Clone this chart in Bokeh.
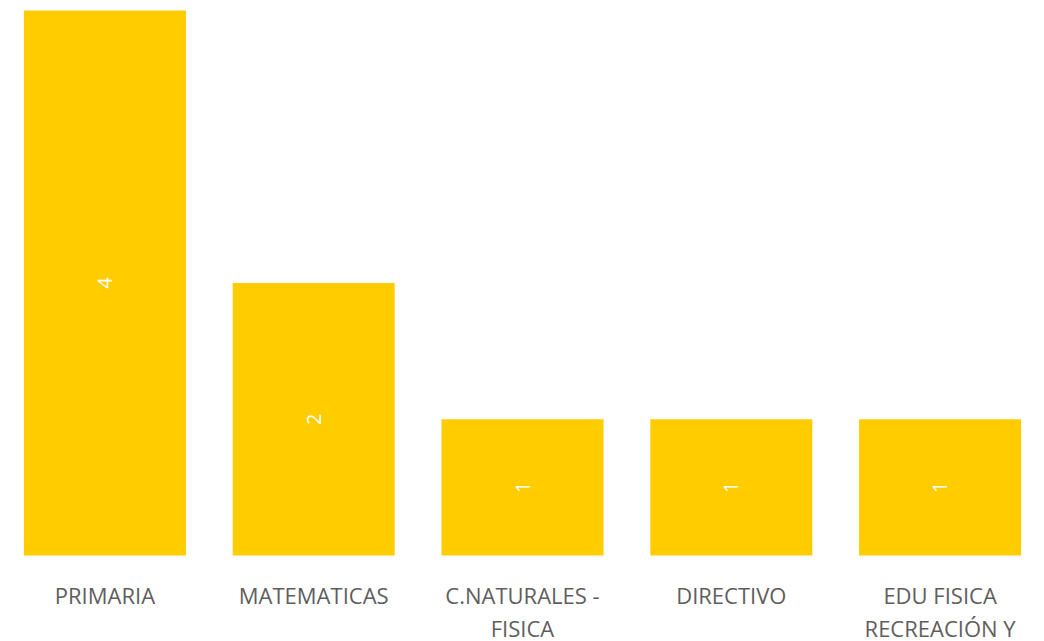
import math
from bokeh.plotting import figure
from bokeh.models import FactorRange, Range1d, ColumnDataSource
from bokeh.core.properties import value
from bokeh.embed import file_html
from bokeh.resources import INLINE

categories = ["PRIMARIA", "MATEMATICAS", "C.NATURALES - FISICA", "DIRECTIVO", "EDU FISICA RECREACIÓN Y DEPORTES"]
wrapped_labels = ["PRIMARIA", "MATEMATICAS", "C.NATURALES -\nFISICA", "DIRECTIVO", "EDU FISICA\nRECREACIÓN Y\nDEPORTES"]
counts = [4, 2, 1, 1, 1]

BAR_COLOR = "#FFCC00"
FONT = "Open Sans"

src = ColumnDataSource(dict(
    cat=categories,
    lab=wrapped_labels,
    val=counts,
    mid=[v / 2 for v in counts],
    txt=[str(v) for v in counts],
    ly=[-0.18] * len(categories),
))

p = figure(
    width=1044, height=641,
    x_range=FactorRange(factors=categories, range_padding=0),
    y_range=Range1d(-0.6312, 4.0734),
    output_backend="svg", toolbar_location=None,
    min_border=0, min_border_left=0, min_border_right=0, min_border_top=0, min_border_bottom=0,
)
p.outline_line_color = None
p.axis.visible = False
p.xgrid.visible = False
p.ygrid.visible = False
p.background_fill_color = "white"
p.border_fill_color = "white"

p.vbar(x="cat", top="val", bottom=0, width=0.776, source=src,
       fill_color=BAR_COLOR, line_color=None)

p.text(x="cat", y="mid", text="txt", source=src, angle=math.pi / 2,
       text_align="center", text_baseline="middle", text_color="white",
       text_font=value(FONT), text_font_size="20px")

p.text(x="cat", y="ly", text="lab", source=src,
       text_align="center", text_baseline="top", text_color="#605E5C",
       text_font=value(FONT), text_font_size="22px", text_line_height=1.11)

open("out.html", "w").write(file_html(p, INLINE))
